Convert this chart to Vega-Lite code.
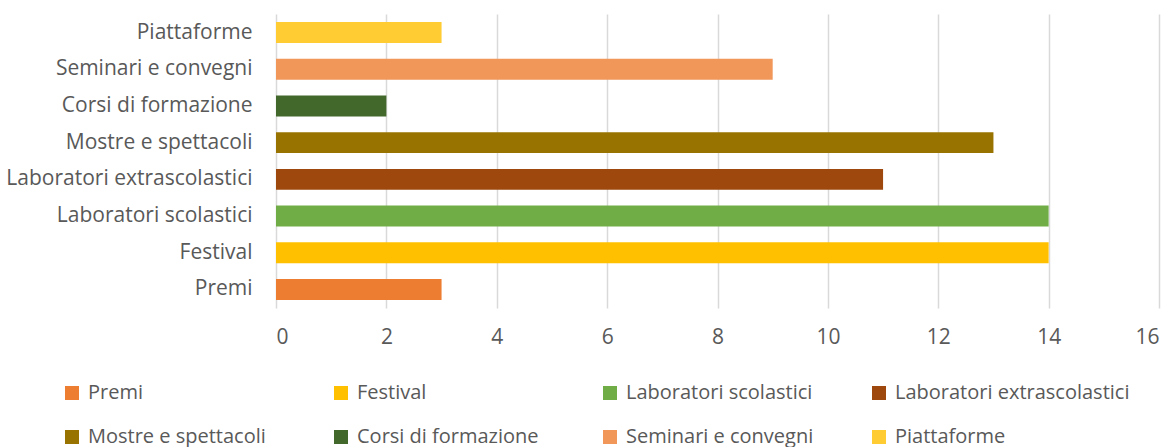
{
  "$schema": "https://vega.github.io/schema/vega-lite/v6.json",
  "width": 883,
  "height": 294,
  "autosize": {"type": "none"},
  "padding": {"left": 276, "top": 14, "right": 15, "bottom": 139},
  "background": "white",
  "config": {
    "view": {"stroke": null},
    "font": "Open Sans",
    "axis": {"labelFont": "Open Sans", "labelFontSize": 21, "labelColor": "#595959", "labelLimit": 0},
    "legend": {"labelFont": "Open Sans", "labelFontSize": 20, "labelColor": "#595959", "labelLimit": 0}
  },
  "data": {
    "values": [
      {"categoria": "Premi", "valore": 3},
      {"categoria": "Festival", "valore": 14},
      {"categoria": "Laboratori scolastici", "valore": 14},
      {"categoria": "Laboratori extrascolastici", "valore": 11},
      {"categoria": "Mostre e spettacoli", "valore": 13},
      {"categoria": "Corsi di formazione", "valore": 2},
      {"categoria": "Seminari e convegni", "valore": 9},
      {"categoria": "Piattaforme", "valore": 3}
    ]
  },
  "mark": {"type": "bar"},
  "encoding": {
    "y": {
      "field": "categoria",
      "type": "nominal",
      "title": null,
      "sort": ["Piattaforme", "Seminari e convegni", "Corsi di formazione", "Mostre e spettacoli", "Laboratori extrascolastici", "Laboratori scolastici", "Festival", "Premi"],
      "scale": {"paddingInner": 0.43, "paddingOuter": 0.22},
      "axis": {"domain": false, "ticks": false, "tickSize": 0, "labelPadding": 24, "grid": false, "labelLimit": 0}
    },
    "x": {
      "field": "valore",
      "type": "quantitative",
      "title": null,
      "scale": {"domain": [0, 16], "nice": false},
      "axis": {
        "values": [0, 2, 4, 6, 8, 10, 12, 14, 16],
        "domain": false,
        "ticks": false,
        "tickSize": 0,
        "labelPadding": 18,
        "grid": true,
        "gridColor": "#D9D9D9",
        "gridWidth": 1.5
      }
    },
    "color": {
      "field": "categoria",
      "type": "nominal",
      "scale": {
        "domain": ["Premi", "Festival", "Laboratori scolastici", "Laboratori extrascolastici", "Mostre e spettacoli", "Corsi di formazione", "Seminari e convegni", "Piattaforme"],
        "range": ["#ED7D31", "#FFC000", "#70AD47", "#9E480E", "#997300", "#43682B", "#F1975A", "#FFCD33"]
      },
      "legend": {
        "title": null,
        "orient": "none",
        "legendX": -214,
        "legendY": 369,
        "direction": "horizontal",
        "columns": 4,
        "gridAlign": "all",
        "columnPadding": 8,
        "rowPadding": 24,
        "padding": 0,
        "symbolType": "square",
        "symbolSize": 196,
        "symbolStrokeWidth": 0,
        "symbolOpacity": 1,
        "labelOffset": 6,
        "labelLimit": 0
      }
    }
  }
}
